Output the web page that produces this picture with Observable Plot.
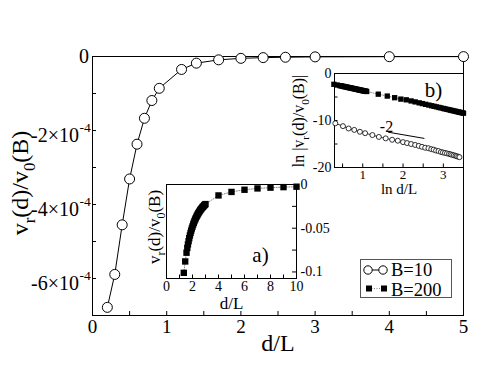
<!DOCTYPE html>
<html><head><meta charset="utf-8">
<script src="https://cdn.jsdelivr.net/npm/d3@7"></script>
<script src="https://cdn.jsdelivr.net/npm/@observablehq/plot@0.6"></script>
<style>
body{margin:0;background:#fff}
#wrap{position:relative;width:480px;height:371px;overflow:hidden;background:#fff}
#wrap svg{position:absolute;left:0;top:0}
</style></head><body><div id="wrap"></div>
<script>
// ---------- main panel: B=10 ----------
const mainD = [0.2,0.3,0.4,0.5,0.6,0.7,0.8,0.9,1.2,1.4,1.7,2.0,2.3,2.6,3.0,4.0,5.0];
const mainV = [-6.78e-4,-5.89e-4,-4.55e-4,-3.31e-4,-2.37e-4,-1.67e-4,-1.19e-4,-0.86e-4,-0.35e-4,-0.18e-4,-0.09e-4,-0.05e-4,-0.03e-4,-0.02e-4,-0.01e-4,-0.005e-4,-0.003e-4];
const mainXMajor = [0,1,2,3,4,5];
const mainXMinor = [0.5,1.5,2.5,3.5,4.5];
const mainYMajor = [0,-2e-4,-4e-4,-6e-4];
const mainYMinor = [-1e-4,-3e-4,-5e-4];
const mainYBase = ["0","-2×10","-4×10","-6×10"];
const mainYExp = ["","-4","-4","-4"];

// ---------- inset a): B=200, linear ----------
const aD = [1.33,1.44,1.54,1.60,1.65,1.70,1.75,1.80,1.85,1.90,1.95,2.00,2.05,2.10,2.15,2.20,2.25,2.30,2.35,2.40,2.45,2.50,2.55,2.60,2.65,2.70,2.75,2.80,2.85,2.90,2.95,3.00,4,5,6,7,8,9,10];
const aV = [-0.101,-0.088,-0.078,-0.0725,-0.0685,-0.0648,-0.0614,-0.0583,-0.0554,-0.0528,-0.0503,-0.0480,-0.0458,-0.0438,-0.0419,-0.0401,-0.0385,-0.0369,-0.0355,-0.0341,-0.0328,-0.0316,-0.0304,-0.0293,-0.0283,-0.0273,-0.0264,-0.0255,-0.0247,-0.0239,-0.0231,-0.0224,-0.0125,-0.0085,-0.006,-0.0045,-0.0036,-0.003,-0.0025];
const aXTicks = [0,1,2,3,4,5,6,7,8,9,10];
const aXLabels = [0,2,4,6,8,10];
const aYTicks = [0,-0.025,-0.05,-0.075,-0.1];
const aYLabels = [0,-0.05,-0.1];
const aYLabelText = ["0","-0.05","-0.1"];

// ---------- inset b): log-log ----------
const bLnD200 = [0.285,0.365,0.432,0.470,0.500,0.531,0.560,0.588,0.615,0.642,0.668,0.693,0.718,0.742,0.765,0.788,0.811,0.833,0.854,0.875,0.896,0.916,0.936,0.956,0.974,0.993,1.012,1.030,1.047,1.065,1.082,1.099,1.386,1.609,1.792,1.946,2.08,2.20,2.30,2.40,2.48,2.56,2.64,2.71,2.77,2.83,2.89,2.94,3.00,3.04,3.09,3.14,3.18,3.22,3.26,3.30,3.33,3.37,3.40,3.43,3.47,3.50];
const bLnV200 = [-2.30,-2.45,-2.58,-2.65,-2.70,-2.76,-2.82,-2.87,-2.92,-2.97,-3.02,-3.07,-3.11,-3.16,-3.20,-3.25,-3.29,-3.33,-3.37,-3.41,-3.45,-3.49,-3.52,-3.56,-3.60,-3.63,-3.67,-3.70,-3.73,-3.77,-3.80,-3.83,-4.40,-4.80,-5.15,-5.45,-5.60,-5.84,-6.04,-6.24,-6.40,-6.56,-6.72,-6.86,-6.98,-7.10,-7.22,-7.32,-7.44,-7.52,-7.62,-7.72,-7.80,-7.88,-7.96,-8.04,-8.10,-8.18,-8.24,-8.30,-8.38,-8.44];
const bLnD10 = [0.32,0.51,0.65,0.79,0.93,1.06,1.24,1.40,1.57,1.73,1.87,2.00,2.10,2.20,2.30,2.39,2.47,2.55,2.63,2.70,2.76,2.82,2.88,2.94,2.99,3.04,3.09,3.14,3.18,3.22,3.26,3.30,3.33,3.37,3.40];
const bLnV10 = [-10.6,-11.2,-11.7,-12.0,-12.4,-12.7,-13.1,-13.5,-13.8,-14.1,-14.3,-14.6,-14.8,-15.0,-15.2,-15.4,-15.6,-15.8,-15.9,-16.1,-16.2,-16.4,-16.5,-16.7,-16.8,-16.9,-17.0,-17.1,-17.2,-17.3,-17.4,-17.5,-17.6,-17.7,-17.8];
const slopeX = [1.64,2.52];
const slopeY = [-12.5,-13.8];
const bXTicks = [0.5,1,1.5,2,2.5,3,3.5];
const bXLabels = [1,2,3];
const bYTicks = [0,-5,-10,-15,-20];
const bYLabels = [0,-10,-20];

const FONT = "Liberation Serif";
const baseStyle = {fontFamily: FONT, background: "transparent", overflow: "visible"};
const rows = (xs, ys) => xs.map((x, i) => ({x, y: ys[i]}));
const wrap = document.getElementById("wrap");
function serif(svg) { d3.select(svg).attr("font-family", FONT).selectAll("text").attr("font-family", FONT); }

// ---------- main plot ----------
const mFrameW = 480 - 92 - 17, mFrameH = 371 - 56 - 56;
const main = Plot.plot({
  width: 480, height: 371, marginLeft: 92, marginRight: 17, marginTop: 56, marginBottom: 56,
  style: baseStyle,
  x: {domain: [0, 5], axis: null},
  y: {domain: [-7e-4, 0], axis: null},
  marks: [
    Plot.frame({stroke: "black"}),
    Plot.tickX(mainXMajor.concat(mainXMinor), {x: d => d, insetTop: mFrameH - 4, stroke: "black"}),
    Plot.tickY(mainYMajor.concat(mainYMinor), {y: d => d, insetRight: mFrameW - 4, stroke: "black"}),
    Plot.line(rows(mainD, mainV), {x: "x", y: "y", stroke: "black", strokeWidth: 1}),
    Plot.dot(rows(mainD, mainV), {x: "x", y: "y", r: 5, stroke: "black", fill: "white", strokeWidth: 1}),
    Plot.text(mainXMajor, {x: d => d, frameAnchor: "bottom", dy: 4, lineAnchor: "top", fontSize: 19, text: d => String(d)}),
    Plot.text(mainYMajor.slice(0, 1), {y: d => d, frameAnchor: "left", dx: -3.5, textAnchor: "end", lineAnchor: "middle", fontSize: 20, text: (d, i) => mainYBase[i]}),
    Plot.text(mainYMajor.slice(1), {y: d => d, frameAnchor: "left", dx: -13.5, dy: 5, textAnchor: "end", lineAnchor: "middle", fontSize: 20, text: (d, i) => mainYBase[i + 1]}),
    Plot.text(mainYMajor.slice(1), {y: d => d, frameAnchor: "left", dx: -13, dy: -3, textAnchor: "start", lineAnchor: "middle", fontSize: 13.5, text: (d, i) => mainYExp[i + 1]}),
    Plot.text(["d/L"], {frameAnchor: "bottom", dy: 35, lineAnchor: "bottom", fontSize: 24})
  ]
});
serif(main);
wrap.appendChild(main);

function rotTitle(svg, x, y, size, parts) {
  const t = d3.select(svg).append("text")
    .attr("transform", `translate(${x},${y}) rotate(-90)`)
    .attr("text-anchor", "middle").attr("font-family", FONT).attr("font-size", size).attr("fill", "black");
  const sub = size * 0.7, shift = size * 0.3;
  let down = false;
  parts.forEach(([s, isSub]) => {
    const ts = t.append("tspan").text(s);
    if (isSub && !down) { ts.attr("dy", shift).attr("font-size", sub); down = true; }
    else if (!isSub && down) { ts.attr("dy", -shift); down = false; }
  });
}
rotTitle(main, 28, 183, 24, [["v"],["r",1],["(d)/v"],["0",1],["(B)"]]);

// legend
const lg = d3.select(main).append("g").attr("font-family", FONT).attr("text-anchor", "start");
lg.append("rect").attr("x", 360.5).attr("y", 259.5).attr("width", 91).attr("height", 38).attr("fill", "white").attr("stroke", "#555");
lg.append("line").attr("x1", 368).attr("x2", 383).attr("y1", 270).attr("y2", 270).attr("stroke", "black");
[368, 383].forEach(cx => lg.append("circle").attr("cx", cx).attr("cy", 270).attr("r", 4.2).attr("fill", "white").attr("stroke", "black"));
lg.append("text").attr("x", 391).attr("y", 276).attr("font-size", 18.5).attr("font-family", FONT).attr("text-anchor", "start").text("B=10");
lg.append("line").attr("x1", 369).attr("x2", 384).attr("y1", 288.5).attr("y2", 288.5).attr("stroke", "#888").attr("stroke-dasharray", "1,1.5");
[369, 384].forEach(cx => lg.append("rect").attr("x", cx - 3).attr("y", 285.5).attr("width", 6).attr("height", 6).attr("fill", "black"));
lg.append("text").attr("x", 391).attr("y", 295.5).attr("font-size", 18.5).attr("font-family", FONT).attr("text-anchor", "start").text("B=200");

// ---------- inset a) ----------
const aFrameW = 480 - 166 - 184, aFrameH = 371 - 184 - 93;
const insetA = Plot.plot({
  width: 480, height: 371, marginLeft: 166, marginRight: 184, marginTop: 184, marginBottom: 93,
  style: baseStyle,
  x: {domain: [0, 10], axis: null},
  y: {domain: [-0.1075, 0], axis: null},
  marks: [
    Plot.frame({stroke: "black", fill: "white"}),
    Plot.tickX(aXTicks, {x: d => d, insetTop: aFrameH - 3.5, stroke: "black"}),
    Plot.tickY(aYTicks, {y: d => d, insetLeft: aFrameW - 4, stroke: "black"}),
    Plot.line(rows(aD, aV), {x: "x", y: "y", stroke: "#888", strokeWidth: 1, strokeDasharray: "1,1.5"}),
    Plot.dot(rows(aD, aV), {x: "x", y: "y", symbol: "square", r: 3.6, fill: "black", stroke: "none"}),
    Plot.text(aXLabels, {x: d => d, frameAnchor: "bottom", dy: 3, lineAnchor: "top", fontSize: 14, text: d => String(d)}),
    Plot.text(aYLabels, {y: d => d, frameAnchor: "right", dx: 4, textAnchor: "start", lineAnchor: "middle", fontSize: 14, text: (d, i) => aYLabelText[i]}),
    Plot.text(["d/L"], {frameAnchor: "bottom", dy: 30, lineAnchor: "bottom", fontSize: 17}),
    Plot.text(["a)"], {frameAnchor: "bottom-right", dx: -36, dy: -23, lineAnchor: "middle", textAnchor: "middle", fontSize: 21})
  ]
});
serif(insetA);
wrap.appendChild(insetA);
rotTitle(insetA, 160, 227, 17, [["v"],["r",1],["(d)/v"],["0",1],["(B)"]]);

// ---------- inset b) ----------
const bFrameW = 480 - 334 - 17, bFrameH = 371 - 73 - 204;
const insetB = Plot.plot({
  width: 480, height: 371, marginLeft: 334, marginRight: 17, marginTop: 73, marginBottom: 204,
  style: baseStyle,
  x: {domain: [0.3, 3.5], axis: null},
  y: {domain: [-20, 0], axis: null},
  marks: [
    Plot.frame({stroke: "black", fill: "white"}),
    Plot.tickX(bXTicks, {x: d => d, insetTop: bFrameH - 3.5, stroke: "black"}),
    Plot.tickY(bYTicks, {y: d => d, insetRight: bFrameW - 3.5, stroke: "black"}),
    Plot.line(rows(bLnD200, bLnV200), {x: "x", y: "y", stroke: "#888", strokeWidth: 1, strokeDasharray: "1,1.5"}),
    Plot.dot(rows(bLnD200, bLnV200), {x: "x", y: "y", symbol: "square", r: 3.0, fill: "black", stroke: "none"}),
    Plot.line(rows(bLnD10, bLnV10), {x: "x", y: "y", stroke: "black", strokeWidth: 0.8}),
    Plot.dot(rows(bLnD10, bLnV10), {x: "x", y: "y", r: 2.5, fill: "white", stroke: "black", strokeWidth: 0.8}),
    Plot.line(rows(slopeX, slopeY), {x: "x", y: "y", stroke: "black", strokeWidth: 1}),
    Plot.text(["-2"], {x: [slopeX[0]], y: [slopeY[0]], dx: -2, dy: -5, lineAnchor: "middle", textAnchor: "middle", fontSize: 16}),
    Plot.text(bXLabels, {x: d => d, frameAnchor: "bottom", dy: 2, lineAnchor: "top", fontSize: 13, text: d => String(d)}),
    Plot.text(bYLabels, {y: d => d, frameAnchor: "left", dx: -3, textAnchor: "end", lineAnchor: "middle", fontSize: 14, text: d => String(d)}),
    Plot.text(["ln d/L"], {frameAnchor: "bottom", dy: 26, lineAnchor: "bottom", fontSize: 15}),
    Plot.text(["b)"], {frameAnchor: "top-right", dx: -30, dy: 17, lineAnchor: "middle", textAnchor: "middle", fontSize: 21})
  ]
});
serif(insetB);
wrap.appendChild(insetB);
rotTitle(insetB, 304, 121, 16, [["ln |v"],["r",1],["(d)/v"],["0",1],["(B)|"]]);
</script>
</body></html>
